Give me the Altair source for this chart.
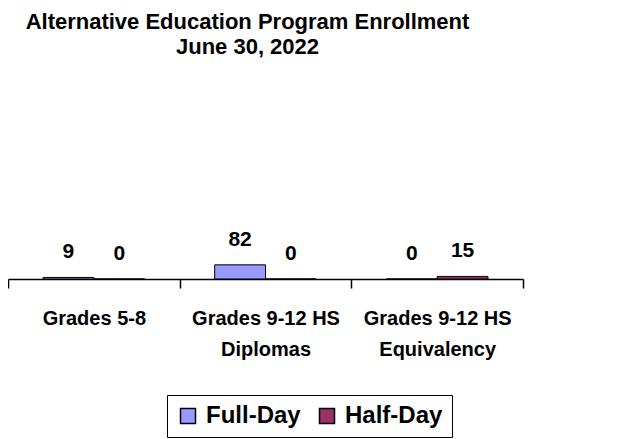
import altair as alt
import pandas as pd

categories = ["Grades 5-8", "Grades 9-12 HS Diplomas", "Grades 9-12 HS Equivalency"]
series = ["Full-Day", "Half-Day"]
full_day = [9, 82, 0]
half_day = [0, 0, 15]
colors = ["#9999FF", "#993366"]
title_lines = ["Alternative Education Program Enrollment", "June 30, 2022"]

rows = []
for c, f, h in zip(categories, full_day, half_day):
    rows.append({"Program": c, "Schedule": series[0], "Enrollment": f})
    rows.append({"Program": c, "Schedule": series[1], "Enrollment": h})
df = pd.DataFrame(rows)

FONT = "Liberation Sans"

base = alt.Chart(df).encode(
    x=alt.X(
        "Program:N",
        sort=categories,
        scale=alt.Scale(paddingInner=0, paddingOuter=0),
        axis=alt.Axis(
            title=None,
            labelAngle=0,
            tickBand="extent",
            tickSize=9,
            tickColor="black",
            tickWidth=1.5,
            domainColor="black",
            domainWidth=1.5,
            labelFont=FONT,
            labelFontSize=20,
            labelFontWeight="bold",
            labelColor="black",
            labelLineHeight=31,
            labelPadding=20,
            labelLimit=0,
            labelExpr="split(replace(datum.label, 'HS ', 'HS|'), '|')",
        ),
    ),
    xOffset=alt.XOffset(
        "Schedule:N", sort=series, scale=alt.Scale(paddingInner=0, paddingOuter=0.69)
    ),
)

bars = base.mark_bar(stroke="black", strokeWidth=1).encode(
    y=alt.Y("Enrollment:Q", scale=alt.Scale(domain=[0, 1100]), axis=None),
    color=alt.Color(
        "Schedule:N",
        sort=series,
        scale=alt.Scale(domain=series, range=colors),
        legend=alt.Legend(
            title=None,
            orient="none",
            legendX=159,
            legendY=306,
            direction="horizontal",
            strokeColor="black",
            padding=9,
            symbolType="square",
            symbolSize=225,
            symbolStrokeColor="black",
            symbolStrokeWidth=1.5,
            labelFont=FONT,
            labelFontSize=24,
            labelFontWeight="bold",
            labelColor="black",
            columnPadding=14,
            labelOffset=6,
            labelLimit=0,
        ),
    ),
)

labels = base.mark_text(
    font=FONT, fontSize=21, fontWeight="bold", baseline="middle", dy=-25, color="black"
).encode(
    y=alt.Y("Enrollment:Q"),
    text=alt.Text("Enrollment:Q"),
)

chart = (
    alt.layer(bars, labels)
    .properties(
        width=515,
        height=190,
        title=alt.TitleParams(
            text=title_lines,
            anchor="middle",
            font=FONT,
            fontSize=22,
            fontWeight="bold",
            color="black",
            lineHeight=25,
            offset=30,
            dx=-18,
        ),
        autosize=alt.AutoSizeParams(type="none"),
        padding={"left": 0, "top": 81, "right": 80, "bottom": 165},
    )
    .configure_view(stroke="transparent")
)

chart.save("out.html", embed_options={"renderer": "svg", "actions": False})
